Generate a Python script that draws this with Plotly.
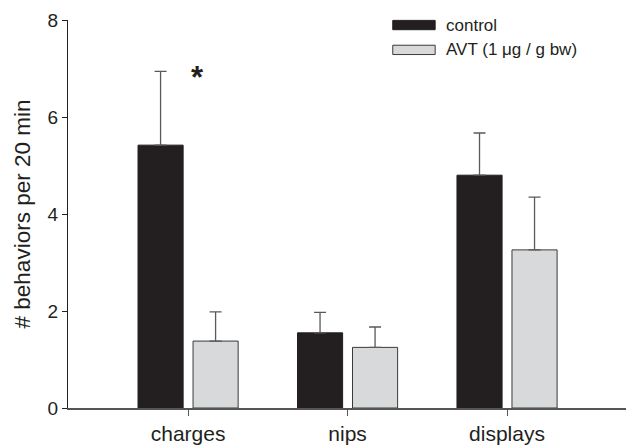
import plotly.graph_objects as go

categories = ["charges", "nips", "displays"]
control_means = [5.42, 1.55, 4.80]
control_err = [1.52, 0.42, 0.87]
avt_means = [1.38, 1.25, 3.26]
avt_err = [0.60, 0.42, 1.09]
y_ticks = [0, 2, 4, 6, 8]
series_names = ["control", "AVT (1 \u03bcg / g bw)"]

FONT = "Liberation Sans, Arial, Helvetica, sans-serif"
CTRL_COLOR = "#231f20"
AVT_COLOR = "#d8d9da"

fig = go.Figure()
fig.add_trace(go.Bar(
    x=categories, y=control_means, name=series_names[0],
    marker=dict(color=CTRL_COLOR, line=dict(color=CTRL_COLOR, width=1)),
    error_y=dict(type="data", symmetric=False, array=control_err,
                 arrayminus=[0] * len(control_err),
                 color="#5a5a5a", thickness=1.3, width=6),
))
fig.add_trace(go.Bar(
    x=categories, y=avt_means, name=series_names[1],
    marker=dict(color=AVT_COLOR, line=dict(color="#3a3a3a", width=1)),
    error_y=dict(type="data", symmetric=False, array=avt_err,
                 arrayminus=[0] * len(avt_err),
                 color="#5a5a5a", thickness=1.3, width=6),
))

# significance marker above charges
fig.add_annotation(x=0.06, y=control_means[0] + control_err[0], xref="x", yref="y",
                   text="<b>*</b>", showarrow=False,
                   font=dict(family=FONT, size=31, color="#231f20"),
                   yanchor="middle", yshift=-6)

# legend drawn as wide swatches
legend_items = [(series_names[0], CTRL_COLOR, CTRL_COLOR, 0.987),
                (series_names[1], AVT_COLOR, "#3a3a3a", 0.923)]
for name, fill, edge, yc in legend_items:
    fig.add_shape(type="rect", xref="paper", yref="paper",
                  x0=0.582, x1=0.658, y0=yc - 0.012, y1=yc + 0.012,
                  fillcolor=fill, line=dict(color=edge, width=1))
    fig.add_annotation(xref="paper", yref="paper", x=0.674, y=yc,
                       text=name, showarrow=False, xanchor="left", yanchor="middle",
                       font=dict(family=FONT, size=17, color="#231f20"))

fig.update_layout(
    width=626, height=445,
    margin=dict(l=68, r=0, t=20, b=35),
    paper_bgcolor="white", plot_bgcolor="white",
    barmode="group", bargap=0.31, bargroupgap=0.18,
    showlegend=False,
    font=dict(family=FONT, color="#231f20"),
)
fig.update_xaxes(
    range=[-0.753, 2.746], showgrid=False, zeroline=False,
    showline=True, linecolor="#555555", linewidth=1.5,
    ticks="outside", ticklen=6, tickcolor="#555555", tickwidth=1,
    tickfont=dict(family=FONT, size=21, color="#231f20"),
)
fig.update_yaxes(
    range=[0, 8], tickvals=y_ticks, showgrid=False, zeroline=False,
    showline=True, linecolor="#231f20", linewidth=1,
    ticks="outside", ticklen=5, tickcolor="#231f20",
    tickfont=dict(family=FONT, size=19, color="#231f20"),
    title=dict(text="# behaviors per 20 min", standoff=10,
               font=dict(family=FONT, size=22.5, color="#231f20")),
)

fig.write_html("out.html", config={"displayModeBar": False},
               post_script="document.body.style.margin='0';")
